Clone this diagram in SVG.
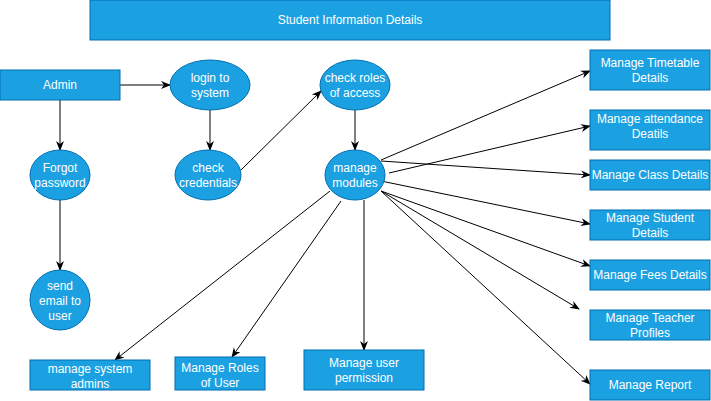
<svg xmlns="http://www.w3.org/2000/svg" width="711" height="401" viewBox="0 0 711 401">
<style>
.n{fill:#1BA1E2;stroke:#006EAF;stroke-width:1}
.t{fill:#FFFFFF;font-family:"Liberation Sans",Arial,sans-serif;font-size:12px;text-anchor:middle}
.e{fill:none;stroke:#000;stroke-width:1}
</style>
<defs>
<marker id="a" viewBox="0 0 10 10" refX="9" refY="5" markerWidth="10" markerHeight="10" markerUnits="userSpaceOnUse" orient="auto">
<path d="M0,1 L10,5 L0,9 L3,5 Z" fill="#000"/>
</marker>
</defs>
<rect width="711" height="401" fill="#FFFFFF"/>
<g id="connectors">
<line class="e" x1="120" y1="85" x2="170" y2="85" marker-end="url(#a)"/>
<line class="e" x1="210" y1="110" x2="210" y2="150" marker-end="url(#a)"/>
<line class="e" x1="60" y1="100" x2="60" y2="150" marker-end="url(#a)"/>
<line class="e" x1="60" y1="200" x2="60" y2="270" marker-end="url(#a)"/>
<line class="e" x1="241" y1="170" x2="321" y2="91" marker-end="url(#a)"/>
<line class="e" x1="355" y1="110" x2="355" y2="150" marker-end="url(#a)"/>
<line class="e" x1="381" y1="160" x2="590" y2="71" marker-end="url(#a)"/>
<line class="e" x1="389" y1="173" x2="590" y2="126" marker-end="url(#a)"/>
<line class="e" x1="381" y1="161" x2="590" y2="175" marker-end="url(#a)"/>
<line class="e" x1="381" y1="181" x2="590" y2="224" marker-end="url(#a)"/>
<line class="e" x1="381" y1="191" x2="590" y2="266" marker-end="url(#a)"/>
<line class="e" x1="381" y1="191" x2="579" y2="309" marker-end="url(#a)"/>
<line class="e" x1="381" y1="191" x2="590" y2="384" marker-end="url(#a)"/>
<line class="e" x1="364" y1="200" x2="364" y2="350" marker-end="url(#a)"/>
<line class="e" x1="330" y1="191" x2="115" y2="360" marker-end="url(#a)"/>
<line class="e" x1="341" y1="201" x2="232" y2="357" marker-end="url(#a)"/>
</g>
<g id="title"><rect class="n" x="90" y="0" width="520" height="40"/><text class="t" x="350" y="24">Student Information Details</text></g>
<g id="admin"><rect class="n" x="0" y="70" width="120" height="30"/><text class="t" x="60" y="89">Admin</text></g>
<g id="login"><ellipse class="n" cx="210" cy="85" rx="40" ry="25"/><text class="t" x="210" y="82">login to</text><text class="t" x="210" y="97">system</text></g>
<g id="roles"><ellipse class="n" cx="355" cy="85" rx="35" ry="25"/><text class="t" x="355" y="82">check roles</text><text class="t" x="355" y="97">of access</text></g>
<g id="forgot"><ellipse class="n" cx="60" cy="175" rx="30" ry="25"/><text class="t" x="60" y="172">Forgot</text><text class="t" x="60" y="187">password</text></g>
<g id="credentials"><ellipse class="n" cx="208" cy="175" rx="33" ry="25"/><text class="t" x="208" y="172">check</text><text class="t" x="208" y="187">credentials</text></g>
<g id="modules"><ellipse class="n" cx="355" cy="175" rx="30" ry="25"/><text class="t" x="355" y="172">manage</text><text class="t" x="355" y="187">modules</text></g>
<g id="email"><ellipse class="n" cx="60" cy="300" rx="30" ry="30"/><text class="t" x="60" y="290">send</text><text class="t" x="60" y="305">email to</text><text class="t" x="60" y="320">user</text></g>
<g id="timetable"><rect class="n" x="590" y="50" width="120" height="40"/><text class="t" x="650" y="67">Manage Timetable</text><text class="t" x="650" y="82">Details</text></g>
<g id="attendance"><rect class="n" x="590" y="110" width="120" height="40"/><text class="t" x="650" y="123">Manage attendance</text><text class="t" x="650" y="138">Deatils</text></g>
<g id="class"><rect class="n" x="590" y="160" width="120" height="30"/><text class="t" x="650" y="179">Manage Class Details</text></g>
<g id="student"><rect class="n" x="590" y="210" width="120" height="30"/><text class="t" x="650" y="222">Manage Student</text><text class="t" x="650" y="237">Details</text></g>
<g id="fees"><rect class="n" x="590" y="260" width="120" height="30"/><text class="t" x="650" y="279">Manage Fees Details</text></g>
<g id="teacher"><rect class="n" x="590" y="310" width="120" height="30"/><text class="t" x="650" y="322">Manage Teacher</text><text class="t" x="650" y="337">Profiles</text></g>
<g id="report"><rect class="n" x="590" y="370" width="120" height="30"/><text class="t" x="650" y="389">Manage Report</text></g>
<g id="permission"><rect class="n" x="304" y="350" width="120" height="40"/><text class="t" x="364" y="367">Manage user</text><text class="t" x="364" y="382">permission</text></g>
<g id="sysadmins"><rect class="n" x="30" y="360" width="120" height="30"/><text class="t" x="90" y="373">manage system</text><text class="t" x="90" y="388">admins</text></g>
<g id="userroles"><rect class="n" x="175" y="357" width="90" height="33"/><text class="t" x="220" y="372">Manage Roles</text><text class="t" x="220" y="387">of User</text></g>
</svg>
